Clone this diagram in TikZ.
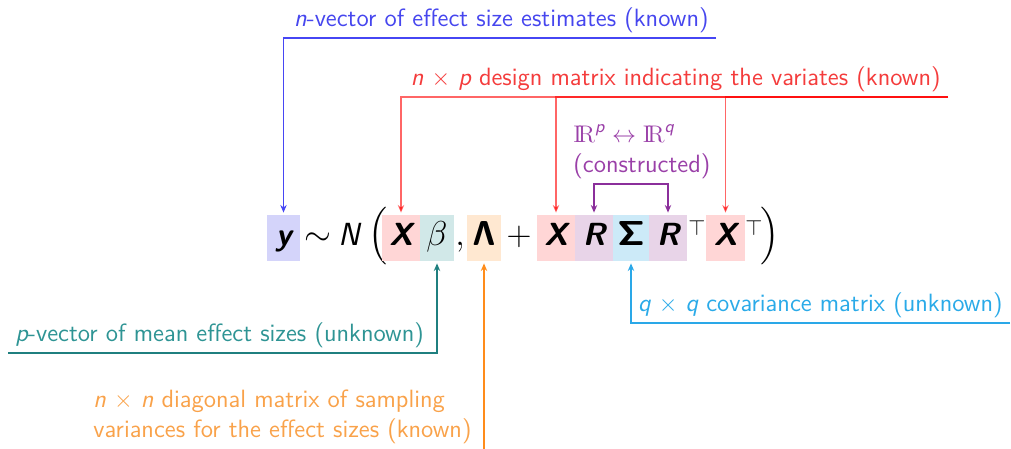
\documentclass[tikz,border=0pt]{standalone}
\usepackage{amsmath,amssymb}
\usetikzlibrary{arrows.meta}
\definecolor{cY}{HTML}{D4D4FA}
\definecolor{cX}{HTML}{FFD6D6}
\definecolor{cB}{HTML}{D1E8E8}
\definecolor{cL}{HTML}{FFE8D1}
\definecolor{cR}{HTML}{E8D4E8}
\definecolor{cS}{HTML}{CCEAF8}
\definecolor{cBl}{HTML}{4646F4}
\definecolor{cBt}{HTML}{4646EE}
\definecolor{cRt}{HTML}{F43C3C}
\definecolor{cPl}{HTML}{8B2F9B}
\definecolor{cPt}{HTML}{9A40A8}
\definecolor{cTl}{HTML}{1F7F7F}
\definecolor{cTt}{HTML}{2E9494}
\definecolor{cOl}{HTML}{FF8C1A}
\definecolor{cOt}{HTML}{F9A24A}
\definecolor{cCl}{HTML}{2AA8E8}
\definecolor{cCt}{HTML}{2AAAE8}
\newcommand\bsi[1]{{\sffamily\bfseries\itshape #1}}
\newcommand\bgr[1]{{\fontencoding{OT1}\fontfamily{cmss}\fontseries{bx}\fontshape{n}\selectfont\char#1\relax}}
\newcommand\myIR{\mathrm{I\!R}}
\newcommand\ssi[1]{\text{\sffamily\itshape #1}}
\tikzset{
  lbl/.style={font=\fontsize{12.5}{15}\selectfont\sffamily, inner xsep=3.5pt, inner ysep=2.5pt},
  eq/.style={inner sep=0pt, text height=15pt, text depth=8pt, font=\fontsize{16}{19}\selectfont},
  box/.style={eq, minimum width=#1},
  tp/.style={inner sep=0pt, font=\fontsize{11}{13}\selectfont},
  con/.style={line width=0.7pt, -{Stealth[length=3.8pt,width=3.2pt]}, shorten >=1pt},
  biarr/.style={line width=0.7pt, {Stealth[length=3.8pt,width=3.2pt]}-{Stealth[length=3.8pt,width=3.2pt]}, shorten >=1pt, shorten <=1pt}
}
\begin{document}
\begin{tikzpicture}[x=0.5pt,y=-0.5pt]
\useasboundingbox (0,0) rectangle (1011,449);
% equation
\node[box=16.5pt, fill=cY] (y) at (283.5,238) {\bsi{y}};
\node[eq] (sim) at (318,238) {$\sim$};
\node[eq] (N) at (349,238) {\sffamily\itshape N};
\node[eq] (lp) at (378,238) {$\Big($};
\node[box=19pt, fill=cX] (X1) at (401,238) {\bsi{X}};
\node[box=17pt, fill=cB] (be) at (437,238) {$\beta$};
\node[eq] (cm) at (460,238) {$,$};
\node[box=17pt, fill=cL] (La) at (484,238) {\bgr{3}};
\node[eq] (pl) at (519,238) {$+$};
\node[box=19pt, fill=cX] (X2) at (556,238) {\bsi{X}};
\node[box=19pt, fill=cR] (R1) at (594,238) {\bsi{R}};
\node[box=18pt, fill=cS] (Si) at (631,238) {\bgr{6}};
\node[box=19pt, fill=cR] (R2) at (668,238) {\bsi{R}};
\node[tp] (t1) at (697,227.5) {$\top$};
\node[box=19.5pt, fill=cX] (X3) at (725.5,238) {\bsi{X}};
\node[tp] (t2) at (754,227.5) {$\top$};
\node[eq] (rp) at (770,238) {$\Big)$};
% labels
\node[lbl, text=cBt, anchor=south east] (lb) at (716,38) {{\itshape n}-vector of effect size estimates (known)};
\node[lbl, text=cRt, anchor=south east] (lr) at (948,97) {{\itshape n} $\times$ {\itshape p} design matrix indicating the variates (known)};
\node[lbl, text=cPt, anchor=south west, align=left] (lpu) at (566,184) {$\myIR^{\ssi{p}} \leftrightarrow \myIR^{\ssi{q}}$\\(constructed)};
\node[lbl, text=cTt, anchor=south west] (lt) at (8,353) {{\itshape p}-vector of mean effect sizes (unknown)};
\node[lbl, text=cOt, anchor=south west, align=left] (lo) at (86,449) {{\itshape n} $\times$ {\itshape n} diagonal matrix of sampling\\variances for the effect sizes (known)};
\node[lbl, text=cCt, anchor=south east] (lc) at (1010,323) {{\itshape q} $\times$ {\itshape q} covariance matrix (unknown)};
\coordinate (ob) at (484,455);
% connectors
\draw[con, cBl] (lb.south east) -| (y.north);
\foreach \t in {X1,X2,X3} \draw[con, red, opacity=.6] (lr.south east) -| (\t.north);
\draw[biarr, cPl] (R1.north) |- (lpu.south) -| (R2.north);
\draw[con, cTl] (lt.south west) -| (be.south);
\draw[con, cOl] (ob) -- (La.south);
\draw[con, cCl] (lc.south east) -| (Si.south);
\end{tikzpicture}
\end{document}
